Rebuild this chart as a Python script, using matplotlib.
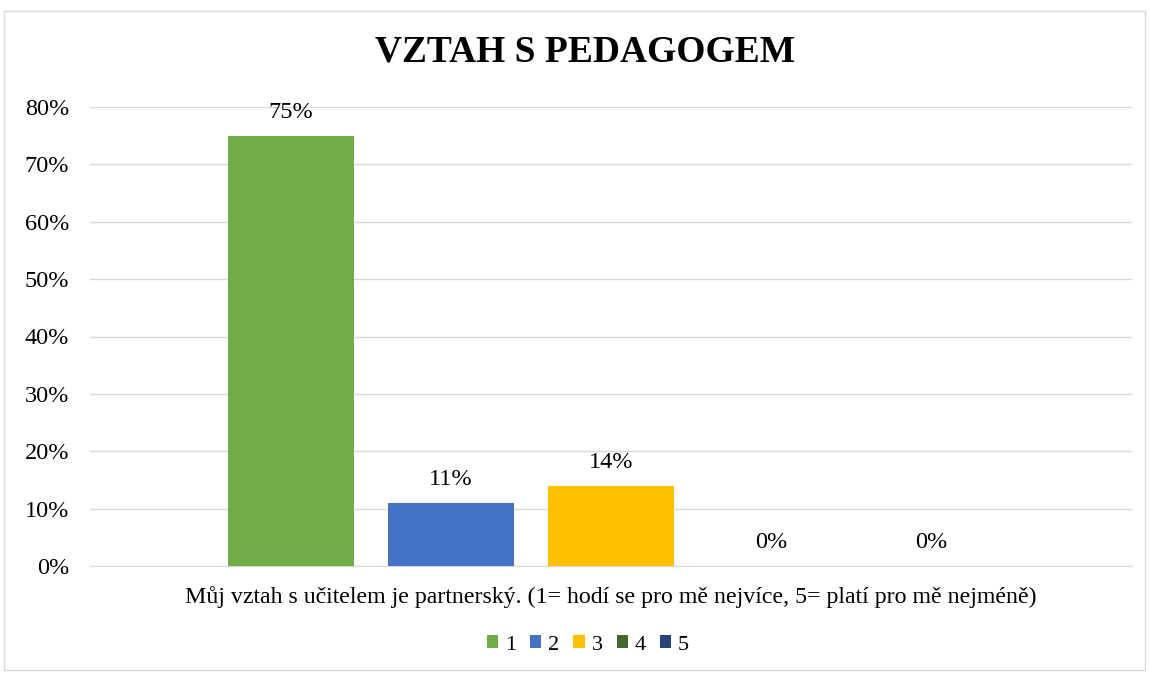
import matplotlib.pyplot as plt
from matplotlib.patches import Rectangle
from matplotlib.ticker import PercentFormatter

plt.rcParams['font.family'] = ['Liberation Serif', 'DejaVu Serif']

# data
series = ['1', '2', '3', '4', '5']
values = [0.75, 0.11, 0.14, 0.0, 0.0]
labels = ['75%', '11%', '14%', '0%', '0%']
colors = ['#70AD47', '#4472C4', '#FFC000', '#43682B', '#264478']
category = 'Můj vztah s učitelem je partnerský. (1= hodí se pro mě nejvíce, 5= platí pro mě nejméně)'
yticks = [0, 0.1, 0.2, 0.3, 0.4, 0.5, 0.6, 0.7, 0.8]

W, H = 1149, 675
fig = plt.figure(figsize=(W / 100, H / 100), dpi=100)
ax = fig.add_axes([90 / W, 1 - 566 / H, (1132 - 90) / W, (566 - 107) / H])

# chart border
fig.patches.append(Rectangle((4 / W, 1 - 670 / H), (1145 - 4) / W, (670 - 11) / H,
                             transform=fig.transFigure, fill=False,
                             edgecolor='#d9d9d9', linewidth=1))

bar_w = 126 / 160
for i, (name, v, lab, c) in enumerate(zip(series, values, labels, colors)):
    ax.bar(i, v, width=bar_w, color=c, label=name, zorder=3)
    ax.annotate(lab, (i, v), xytext=(0, 9), textcoords='offset points',
                ha='center', va='bottom', fontsize=17.5, color='black')

half = (1042 / 160) / 2
ax.set_xlim(2 - half, 2 + half)
ax.set_ylim(0, 0.8)
ax.set_yticks(yticks)
ax.yaxis.set_major_formatter(PercentFormatter(1.0, decimals=0))
ax.tick_params(axis='y', length=0, labelsize=17.5, labelcolor='black', pad=15)
ax.set_xticks([])
ax.grid(axis='y', color='#d9d9d9', linewidth=1, zorder=0)
for s in ['top', 'right', 'left']:
    ax.spines[s].set_visible(False)
ax.spines['bottom'].set_color('#d9d9d9')

fig.text(585 / W, 1 - 52 / H, 'VZTAH S PEDAGOGEM', ha='center', va='center',
         fontsize=27, fontweight='bold', color='black')
fig.text(611 / W, 1 - 597 / H, category, ha='center', va='center',
         fontsize=17.2, color='black')

ax.legend(loc='center', bbox_to_anchor=(588 / W, 1 - 645 / H),
          bbox_transform=fig.transFigure, ncol=5, frameon=False,
          fontsize=16, handlelength=0.5, handleheight=0.5,
          handletextpad=0.32, columnspacing=0.63)

fig.savefig('out.png', dpi=100)
